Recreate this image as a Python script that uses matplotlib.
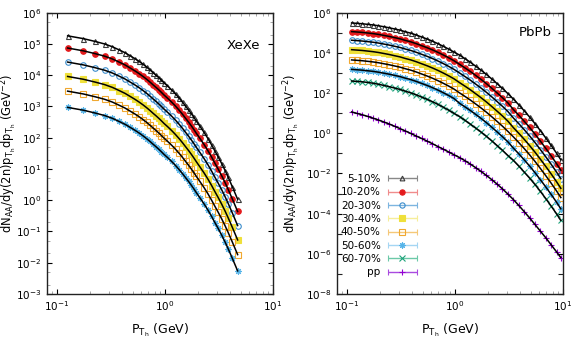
import numpy as np
import matplotlib
matplotlib.use("Agg")
import matplotlib.pyplot as plt
from matplotlib.ticker import LogLocator, NullFormatter
from matplotlib.container import ErrorbarContainer
from matplotlib.legend_handler import HandlerErrorbar

# Data (log10 of the yield) ---------------------------------------
xe_pt = [0.125, 0.175, 0.225, 0.275, 0.325, 0.375, 0.425, 0.475, 0.525, 0.575,
         0.625, 0.675, 0.725, 0.775, 0.825, 0.875, 0.925, 0.975,
         1.05, 1.15, 1.25, 1.35, 1.45, 1.55, 1.65, 1.75, 1.85, 1.95,
         2.1, 2.3, 2.5, 2.7, 2.9, 3.1, 3.35, 3.6, 3.85, 4.2, 4.7]

xe_05_10 = [5.26, 5.17, 5.08, 5.00, 4.91, 4.81, 4.72, 4.62, 4.53, 4.44, 4.35, 4.26, 4.17, 4.08, 4.00, 3.92, 3.84, 3.76,
            3.66, 3.53, 3.40, 3.27, 3.14, 3.01, 2.89, 2.77, 2.65, 2.53,
            2.37, 2.17, 1.97, 1.77, 1.57, 1.39, 1.17, 0.95, 0.73, 0.43, 0.03]
xe_10_20 = [4.87, 4.78, 4.69, 4.61, 4.52, 4.42, 4.33, 4.23, 4.14, 4.05, 3.96, 3.87, 3.78, 3.69, 3.61, 3.53, 3.45, 3.37,
            3.27, 3.14, 3.01, 2.88, 2.75, 2.62, 2.50, 2.38, 2.26, 2.14,
            1.98, 1.78, 1.58, 1.38, 1.18, 1.00, 0.78, 0.56, 0.34, 0.04, -0.36]
xe_20_30 = [4.42, 4.33, 4.24, 4.16, 4.07, 3.97, 3.88, 3.78, 3.69, 3.60, 3.51, 3.42, 3.33, 3.24, 3.16, 3.08, 3.00, 2.92,
            2.82, 2.69, 2.56, 2.43, 2.30, 2.17, 2.05, 1.93, 1.81, 1.69,
            1.53, 1.33, 1.13, 0.93, 0.73, 0.55, 0.33, 0.11, -0.11, -0.41, -0.81]
xe_30_40 = [3.96, 3.87, 3.78, 3.70, 3.61, 3.51, 3.42, 3.32, 3.23, 3.14, 3.05, 2.96, 2.87, 2.78, 2.70, 2.62, 2.54, 2.46,
            2.36, 2.23, 2.10, 1.97, 1.84, 1.71, 1.59, 1.47, 1.35, 1.23,
            1.07, 0.87, 0.67, 0.47, 0.27, 0.09, -0.13, -0.35, -0.57, -0.87, -1.27]
xe_40_50 = [3.49, 3.40, 3.31, 3.23, 3.14, 3.04, 2.95, 2.85, 2.76, 2.67, 2.58, 2.49, 2.40, 2.31, 2.23, 2.15, 2.07, 1.99,
            1.89, 1.76, 1.63, 1.50, 1.37, 1.24, 1.12, 1.00, 0.88, 0.76,
            0.60, 0.40, 0.20, 0.00, -0.20, -0.38, -0.60, -0.82, -1.04, -1.34, -1.74]
xe_50_60 = [2.97, 2.88, 2.79, 2.71, 2.62, 2.52, 2.43, 2.33, 2.24, 2.15, 2.06, 1.97, 1.88, 1.79, 1.71, 1.63, 1.55, 1.47,
            1.37, 1.24, 1.11, 0.98, 0.85, 0.72, 0.60, 0.48, 0.36, 0.24,
            0.08, -0.12, -0.32, -0.52, -0.72, -0.90, -1.12, -1.34, -1.56, -1.86, -2.26]

pb_pt = [0.11, 0.123, 0.138, 0.155, 0.174, 0.195, 0.219, 0.245, 0.275, 0.309,
         0.347, 0.389, 0.437, 0.49, 0.55, 0.617, 0.692, 0.776, 0.871, 0.977,
         1.1, 1.23, 1.38, 1.55, 1.74, 1.95, 2.19, 2.45, 2.75, 3.09,
         3.47, 3.89, 4.37, 4.9, 5.5, 6.17, 6.92, 7.76, 8.71, 9.55]

pb_05_10 = [5.49, 5.47, 5.45, 5.42, 5.39, 5.35, 5.30, 5.25, 5.19, 5.13,
            5.05, 4.98, 4.89, 4.79, 4.69, 4.58, 4.46, 4.33, 4.19, 4.04,
            3.89, 3.72, 3.54, 3.34, 3.14, 2.93, 2.70, 2.47, 2.23, 1.97,
            1.70, 1.42, 1.12, 0.81, 0.48, 0.13, -0.23, -0.60, -0.99, -1.32]
pb_10_20 = [5.06, 5.04, 5.02, 4.99, 4.96, 4.92, 4.87, 4.82, 4.76, 4.70,
            4.62, 4.55, 4.46, 4.36, 4.26, 4.15, 4.03, 3.90, 3.76, 3.61,
            3.43, 3.26, 3.08, 2.88, 2.68, 2.47, 2.24, 2.01, 1.77, 1.51,
            1.18, 0.90, 0.60, 0.29, -0.04, -0.39, -0.75, -1.12, -1.51, -1.84]
pb_20_30 = [4.63, 4.61, 4.59, 4.56, 4.53, 4.49, 4.44, 4.39, 4.33, 4.27,
            4.19, 4.12, 4.03, 3.93, 3.83, 3.72, 3.60, 3.47, 3.33, 3.18,
            3.00, 2.83, 2.65, 2.45, 2.25, 2.04, 1.81, 1.58, 1.34, 1.08,
            0.76, 0.48, 0.18, -0.13, -0.46, -0.81, -1.17, -1.54, -1.93, -2.26]
pb_30_40 = [4.16, 4.14, 4.12, 4.09, 4.06, 4.02, 3.97, 3.92, 3.86, 3.80,
            3.72, 3.65, 3.56, 3.46, 3.36, 3.25, 3.13, 3.00, 2.86, 2.71,
            2.52, 2.35, 2.17, 1.97, 1.77, 1.56, 1.33, 1.10, 0.86, 0.60,
            0.28, 0.00, -0.30, -0.61, -0.94, -1.29, -1.65, -2.02, -2.41, -2.74]
pb_40_50 = [3.65, 3.63, 3.61, 3.58, 3.55, 3.51, 3.46, 3.41, 3.35, 3.29,
            3.21, 3.14, 3.05, 2.95, 2.85, 2.74, 2.62, 2.49, 2.35, 2.20,
            2.01, 1.84, 1.66, 1.46, 1.26, 1.05, 0.82, 0.59, 0.35, 0.09,
            -0.18, -0.46, -0.76, -1.07, -1.40, -1.75, -2.11, -2.48, -2.87, -3.20]
pb_50_60 = [3.18, 3.16, 3.14, 3.11, 3.08, 3.04, 2.99, 2.94, 2.88, 2.82,
            2.74, 2.67, 2.58, 2.48, 2.38, 2.27, 2.15, 2.02, 1.88, 1.73,
            1.49, 1.32, 1.14, 0.94, 0.74, 0.53, 0.30, 0.07, -0.17, -0.43,
            -0.74, -1.02, -1.32, -1.63, -1.96, -2.31, -2.67, -3.04, -3.43, -3.76]
pb_60_70 = [2.60, 2.58, 2.56, 2.53, 2.49, 2.44, 2.38, 2.32, 2.25, 2.18,
            2.09, 2.01, 1.91, 1.80, 1.69, 1.57, 1.44, 1.30, 1.15, 0.99,
            0.83, 0.65, 0.46, 0.26, 0.06, -0.15, -0.38, -0.61, -0.85, -1.11,
            -1.35, -1.63, -1.93, -2.23, -2.55, -2.89, -3.25, -3.62, -4.01, -4.34]
pb_pp = [1.06, 0.99, 0.92, 0.84, 0.75, 0.66, 0.56, 0.46, 0.35, 0.23,
         0.11, -0.01, -0.14, -0.26, -0.39, -0.52, -0.66, -0.79, -0.93, -1.07,
         -1.21, -1.36, -1.53, -1.71, -1.90, -2.10, -2.31, -2.53, -2.77, -3.03,
         -3.30, -3.59, -3.90, -4.21, -4.54, -4.87, -5.20, -5.55, -5.90, -6.19]

labels = ['5-10%', '10-20%', '20-30%', '30-40%', '40-50%', '50-60%', '60-70%', 'pp']
xe_series = [xe_05_10, xe_10_20, xe_20_30, xe_30_40, xe_40_50, xe_50_60]
pb_series = [pb_05_10, pb_10_20, pb_20_30, pb_30_40, pb_40_50, pb_50_60, pb_60_70, pb_pp]

# Styles -------------------------------------------------------
colors = ['#3a3a3a', '#e41a1c', '#3c8dcc', '#efe03a', '#f0a830', '#56b4e9', '#1fa37c', '#9400d3']
bar_colors = ['#888888', '#f08c8c', '#7db5e0', '#f6ee9a', '#f5c878', '#a5d6f3', '#6cc9a8', '#a94be0']
markers = ['^', 'o', 'o', 's', 's', (8, 2, 0), 'x', '+']
filled = [False, True, False, True, False, True, True, True]
sizes = [3.6, 4.0, 4.0, 4.0, 4.0, 4.6, 4.0, 5.0]

plt.rcParams['font.family'] = ['DejaVu Sans']
plt.rcParams['mathtext.fontset'] = 'dejavusans'

fig = plt.figure(figsize=(5.81, 3.49), dpi=100)
ax1 = fig.add_axes([0.0804, 0.1576, 0.3895, 0.806])
ax2 = fig.add_axes([0.5795, 0.1576, 0.3895, 0.806])


def draw(ax, pt, series):
    for i, lg in enumerate(series):
        y = 10 ** np.array(lg)
        face = colors[i] if filled[i] else 'none'
        ax.plot(pt, y, linestyle='none', marker=markers[i], ms=sizes[i],
                mfc=face, mec=colors[i], mew=0.8, zorder=2)
        ax.plot(pt, y, color='black', lw=1.1, zorder=3)


def style(ax, ylo, yhi, every_other, label_x):
    ax.set_xscale('log')
    ax.set_yscale('log')
    ax.set_xlim(0.08, 10)
    ax.set_ylim(ylo, yhi)
    ax.xaxis.set_major_locator(LogLocator(base=10, numticks=10))
    ax.xaxis.set_minor_locator(LogLocator(base=10, subs=np.arange(2, 10), numticks=10))
    ax.xaxis.set_minor_formatter(NullFormatter())
    if every_other:
        ax.yaxis.set_major_locator(LogLocator(base=100, numticks=30))
        ax.yaxis.set_minor_locator(LogLocator(base=10, subs=(1.0,), numticks=30))
    else:
        ax.yaxis.set_major_locator(LogLocator(base=10, subs=(1.0,), numticks=30))
        ax.yaxis.set_minor_locator(LogLocator(base=10, subs=(2.0, 5.0), numticks=30))
    ax.yaxis.set_minor_formatter(NullFormatter())
    ax.tick_params(which='both', direction='in', top=True, right=True, labelsize=7.5)
    ax.tick_params(which='major', length=3.5, width=0.8, pad=4)
    ax.tick_params(which='minor', length=2, width=0.6, color='#999999')
    if every_other:
        ax.tick_params(axis='y', which='minor', length=3.5, width=0.8, color='#222222')
    for sp in ax.spines.values():
        sp.set_linewidth(1.0)
        sp.set_color('#222222')
    ax.set_xlabel(r'P$_{\mathregular{T_h}}$ (GeV)', fontsize=9, labelpad=6)
    ax.set_ylabel(r'dN$_{\mathregular{AA}}$/dy(2n)p$_{\mathregular{T_h}}$dp$_{\mathregular{T_h}}$ (GeV$^{\mathregular{-2}}$)',
                  fontsize=8.3)
    ax.yaxis.set_label_coords(label_x, 0.5)


draw(ax1, xe_pt, xe_series)
draw(ax2, pb_pt, pb_series)
style(ax1, 1e-3, 1e6, False, -0.124)
style(ax2, 1e-8, 1e6, True, -0.152)

ax1.text(0.87, 0.885, 'XeXe', transform=ax1.transAxes, ha='center', va='center', fontsize=9.5)
ax2.text(0.876, 0.928, 'PbPb', transform=ax2.transAxes, ha='center', va='center', fontsize=9.5)

# legend proxies (x error bar style, as gnuplot draws them)
handles = []
for i in range(len(labels)):
    face = colors[i] if filled[i] else 'none'
    h = ax2.errorbar([np.nan], [np.nan], xerr=[0.0], fmt='o', ms=sizes[i] * 0.95,
                     mfc=face, mec=colors[i], mew=0.8,
                     ecolor=bar_colors[i], elinewidth=1.0, capsize=2.5, capthick=1.0)
    h[0].set_marker(markers[i])
    handles.append(h)
ax2.legend(handles, labels, loc='lower left', bbox_to_anchor=(0.0, 0.045), frameon=False,
           markerfirst=False, fontsize=7.5, handlelength=2.9, handletextpad=0.6,
           labelspacing=0.32, borderaxespad=0.0, borderpad=0.4,
           handler_map={ErrorbarContainer: HandlerErrorbar(xerr_size=1.4)})

fig.savefig('out.png', dpi=100)
